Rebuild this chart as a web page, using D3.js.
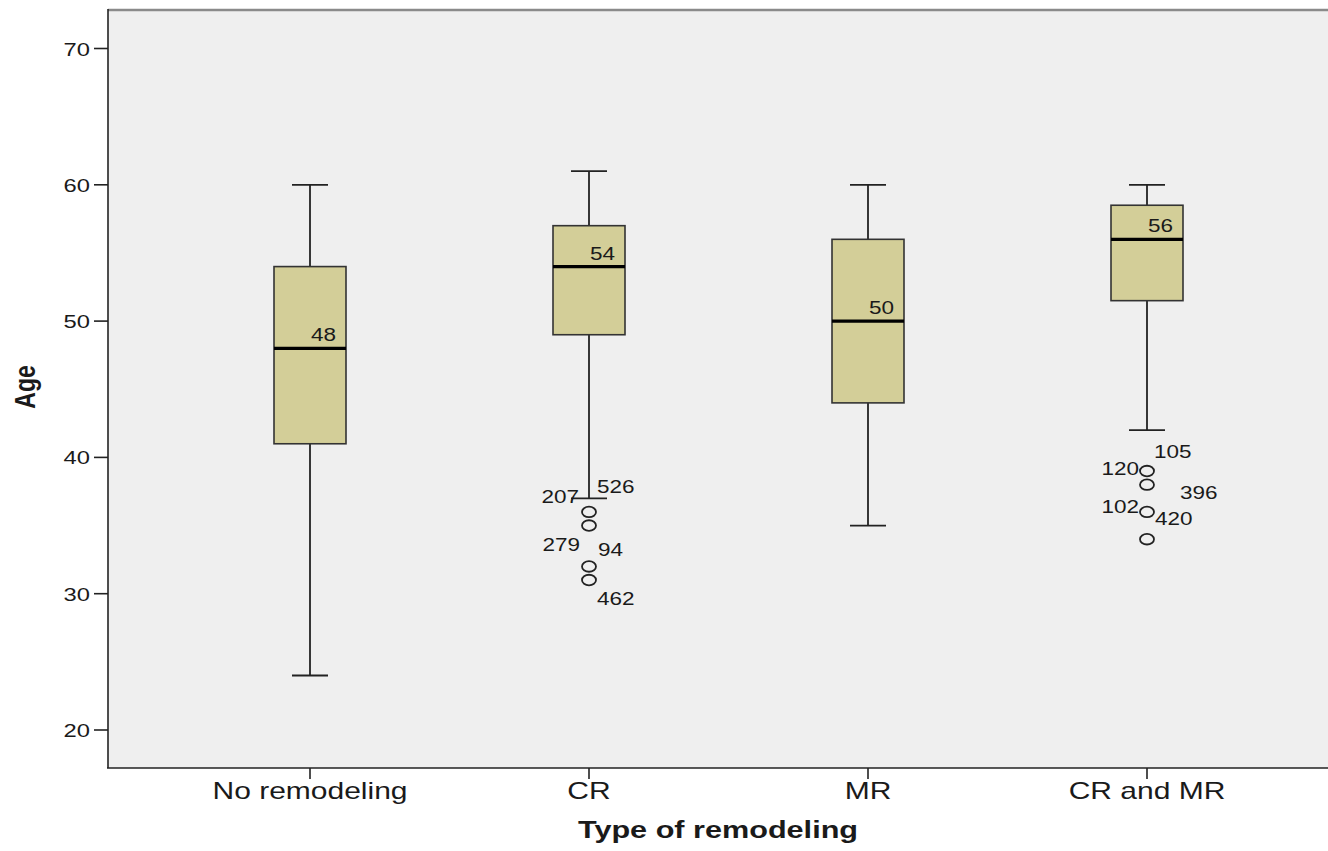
<!DOCTYPE html>
<html>
<head>
<meta charset="utf-8">
<script src="https://cdn.jsdelivr.net/npm/d3@7"></script>
<style>
  html, body { margin: 0; padding: 0; background: #fff; }
  svg { display: block; }
  text { font-family: "Liberation Sans", Arial, sans-serif; fill: #1a1a1a; }
</style>
</head>
<body>
<svg id="chart" width="1328" height="851"></svg>
<script>
// ---- data ----
const categories = ["No remodeling", "CR", "MR", "CR and MR"];
const whiskerLow  = [24, 37, 35, 42];
const q1          = [41, 49, 44, 51.5];
const medians     = [48, 54, 50, 56];
const q3          = [54, 57, 56, 58.5];
const whiskerHigh = [60, 61, 60, 60];
const outlierGroup = ["CR", "CR", "CR", "CR", "CR and MR", "CR and MR", "CR and MR", "CR and MR"];
const outlierValue = [36, 35, 32, 31, 39, 38, 36, 34];
const labelText  = ["207", "526", "279", "94", "462", "105", "120", "396", "102", "420"];
const labelGroup = ["CR", "CR", "CR", "CR", "CR", "CR and MR", "CR and MR", "CR and MR", "CR and MR", "CR and MR"];
const labelValue = [36, 36, 35, 35, 31, 39, 39, 38, 36, 36];
const yTicks = [20, 30, 40, 50, 60, 70];
const xTitle = "Type of remodeling";
const yTitle = "Age";

// ---- layout ----
const SX = 1.25; // horizontal stretch of the reference
const plot = { left: 108, right: 1328, top: 10, bottom: 768 };
const svg = d3.select("#chart");

const x = d3.scalePoint().domain(categories).range([310, 1147]);
const y = d3.scaleLinear().domain([20, 70]).range([730, 48.5]);

// label offsets (layout)
const labelLayout = {
  "207": { dx: -10, dy: -8.5, anchor: "end" },
  "526": { dx: 8,   dy: -18.5, anchor: "start" },
  "279": { dx: -9,  dy: 25, anchor: "end" },
  "94":  { dx: 9,   dy: 30, anchor: "start" },
  "462": { dx: 8,   dy: 25, anchor: "start" },
  "105": { dx: 7,   dy: -13.5, anchor: "start" },
  "120": { dx: -8,  dy: 3.5, anchor: "end" },
  "396": { dx: 33,  dy: 14, anchor: "start" },
  "102": { dx: -8,  dy: 1.5, anchor: "end" },
  "420": { dx: 8,   dy: 13.5, anchor: "start" }
};

function stext(g, px, py, str, size, anchor, weight, rotate) {
  const t = g.append("text")
    .attr("transform", `translate(${px},${py})` + (rotate ? ` rotate(${rotate})` : "") + ` scale(${rotate ? 1 : SX},${rotate ? SX : 1})`)
    .attr("text-anchor", anchor || "start")
    .style("font-size", size + "px")
    .text(str);
  if (weight) t.style("font-weight", weight);
  return t;
}

// plot background
svg.append("rect")
  .attr("x", plot.left).attr("y", plot.top)
  .attr("width", plot.right - plot.left).attr("height", plot.bottom - plot.top)
  .attr("fill", "#efefef");

// top border
svg.append("line")
  .attr("x1", plot.left).attr("x2", plot.right)
  .attr("y1", plot.top).attr("y2", plot.top)
  .attr("stroke", "#8a8a8a").attr("stroke-width", 2.5);

// y axis
const yAxisG = svg.append("g");
yAxisG.append("line")
  .attr("x1", plot.left).attr("x2", plot.left)
  .attr("y1", plot.top - 1).attr("y2", plot.bottom)
  .attr("stroke", "#222").attr("stroke-width", 1.6);
yTicks.forEach(v => {
  yAxisG.append("line")
    .attr("x1", plot.left - 14).attr("x2", plot.left)
    .attr("y1", y(v)).attr("y2", y(v))
    .attr("stroke", "#222").attr("stroke-width", 1.6);
  stext(yAxisG, plot.left - 18, y(v) + 7, String(v), 19, "end");
});

// x axis
const xAxisG = svg.append("g");
xAxisG.append("line")
  .attr("x1", plot.left - 1).attr("x2", plot.right)
  .attr("y1", plot.bottom).attr("y2", plot.bottom)
  .attr("stroke", "#222").attr("stroke-width", 1.6);
categories.forEach(c => {
  xAxisG.append("line")
    .attr("x1", x(c)).attr("x2", x(c))
    .attr("y1", plot.bottom).attr("y2", plot.bottom + 11)
    .attr("stroke", "#222").attr("stroke-width", 1.6);
  stext(xAxisG, x(c), 799, c, 24, "middle");
});

// axis titles
stext(svg, (plot.left + plot.right) / 2, 838, xTitle, 24.5, "middle", "bold");
stext(svg, 35, (plot.top + plot.bottom) / 2 - 2, yTitle, 23, "middle", "bold", -90);

// boxes
const boxW = 72, capW = 36;
const boxes = categories.map((c, i) => ({
  c, lo: whiskerLow[i], q1: q1[i], med: medians[i], q3: q3[i], hi: whiskerHigh[i]
}));
const bg = svg.append("g").selectAll("g").data(boxes).join("g");
bg.append("line")
  .attr("x1", d => x(d.c)).attr("x2", d => x(d.c))
  .attr("y1", d => y(d.hi)).attr("y2", d => y(d.lo))
  .attr("stroke", "#222").attr("stroke-width", 1.8);
bg.append("line")
  .attr("x1", d => x(d.c) - capW / 2).attr("x2", d => x(d.c) + capW / 2)
  .attr("y1", d => y(d.hi)).attr("y2", d => y(d.hi))
  .attr("stroke", "#222").attr("stroke-width", 1.8);
bg.append("line")
  .attr("x1", d => x(d.c) - capW / 2).attr("x2", d => x(d.c) + capW / 2)
  .attr("y1", d => y(d.lo)).attr("y2", d => y(d.lo))
  .attr("stroke", "#222").attr("stroke-width", 1.8);
bg.append("rect")
  .attr("x", d => x(d.c) - boxW / 2).attr("width", boxW)
  .attr("y", d => y(d.q3)).attr("height", d => y(d.q1) - y(d.q3))
  .attr("fill", "#d3ce98").attr("stroke", "#333").attr("stroke-width", 1.6);
bg.append("line")
  .attr("x1", d => x(d.c) - boxW / 2).attr("x2", d => x(d.c) + boxW / 2)
  .attr("y1", d => y(d.med)).attr("y2", d => y(d.med))
  .attr("stroke", "#000").attr("stroke-width", 3.2);
bg.each(function(d) {
  stext(d3.select(this), x(d.c) + 1, y(d.med) - 7, String(d.med), 18, "start");
});

// outliers
svg.append("g").selectAll("ellipse")
  .data(outlierValue.map((v, i) => ({ g: outlierGroup[i], v })))
  .join("ellipse")
  .attr("cx", d => x(d.g)).attr("cy", d => y(d.v))
  .attr("rx", 7).attr("ry", 5.3)
  .attr("fill", "none").attr("stroke", "#222").attr("stroke-width", 1.8);

const lg = svg.append("g");
labelText.forEach((t, i) => {
  const L = labelLayout[t];
  stext(lg, x(labelGroup[i]) + L.dx, y(labelValue[i]) + L.dy, t, 18, L.anchor);
});
</script>
</body>
</html>
